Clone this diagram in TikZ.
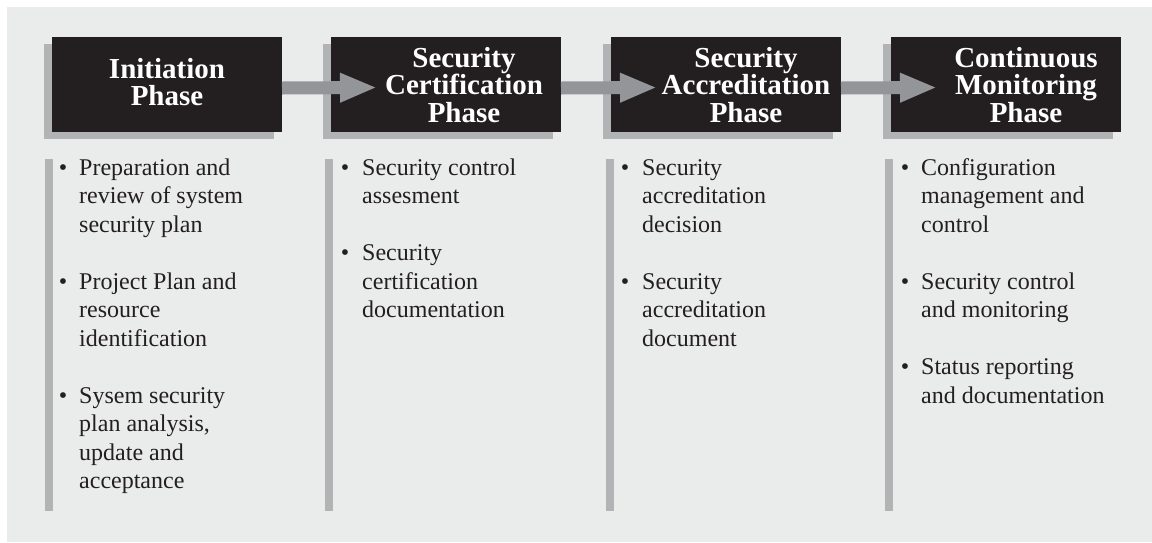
\documentclass[tikz,border=0pt]{standalone}
\usepackage{fontspec}
\setmainfont{Liberation Serif}
\usetikzlibrary{arrows.meta,calc}
\definecolor{bg}{HTML}{EAEBEB}
\definecolor{ink}{HTML}{231F20}
\definecolor{shade}{HTML}{B1B3B5}
\definecolor{arrowgray}{HTML}{939598}
\newcommand{\fs}{\rule{0pt}{22pt}}
\newcommand{\ls}{\rule{0pt}{20pt}}
\begin{document}
\begin{tikzpicture}[x=1pt,y=-1pt,
  phasebox/.style={fill=ink, draw=none, minimum width=230pt, minimum height=95pt, inner sep=0pt, outer sep=0pt},
  shadowbox/.style={fill=shade, draw=none, minimum width=230pt, minimum height=95pt, inner sep=0pt, outer sep=0pt},
  phasetext/.style={text=white, font=\fontsize{29}{27.5}\selectfont\bfseries, align=center, anchor=north, inner sep=0pt},
  itemtext/.style={text=ink, font=\fontsize{24}{28.5}\selectfont, align=left, anchor=north west, inner sep=0pt},
  bulletmark/.style={text=ink, font=\fontsize{24}{28.5}\selectfont, anchor=base, inner sep=0pt},
  sidebar/.style={fill=shade, draw=none},
  flow/.style={draw=arrowgray, line width=13pt, -{Triangle[length=37pt,width=27pt,fill=arrowgray]}}]
\useasboundingbox (0,0) rectangle (1152,542);
\fill[white] (0,0) rectangle (1152,542);
\fill[bg] (7,7) rectangle (1152,542);

% shadows
\foreach \cx/\n in {167/1,446/2,726/3,1006/4}{
  \node[shadowbox] (s\n) at (\cx-8.5,91.5) {};
}
% boxes
\node[phasebox] (p1) at (167,84.5) {};
\node[phasebox] (p2) at (446,84.5) {};
\node[phasebox] (p3) at (726,84.5) {};
\node[phasebox] (p4) at (1006,84.5) {};

% arrows
\coordinate (e1) at ($(p2.west)+(46,3)$);
\coordinate (e2) at ($(p3.west)+(46,3)$);
\coordinate (e3) at ($(p4.west)+(46,3)$);
\draw[flow] ($(p1.east)+(0,3.5)$) -- (e1);
\draw[flow] ($(p2.east)+(0,3.5)$) -- (e2);
\draw[flow] ($(p3.east)+(0,3.5)$) -- (e3);

% titles
\node[phasetext] (t1) at (167,56) {\fs Initiation\\Phase};
\node[phasetext] (t2) at (464,45) {\fs Security\\Certification\\Phase};
\node[phasetext] (t3) at (746,45) {\fs Security\\Accreditation\\Phase};
\node[phasetext] (t4) at (1026,45) {\fs Continuous\\Monitoring\\Phase};

% side bars
\foreach \bx in {45,325,606,885}{
  \fill[sidebar] (\bx,159) rectangle (\bx+8,511);
}

% column 1
\node[bulletmark] (b11) at (63,175) {•};
\node[itemtext] (i11) at (79,155) {\ls Preparation and\\review of system\\security plan};
\node[bulletmark] (b12) at (63,289) {•};
\node[itemtext] (i12) at (79,269) {\ls Project Plan and\\resource\\identification};
\node[bulletmark] (b13) at (63,403) {•};
\node[itemtext] (i13) at (79,383) {\ls Sysem security\\plan analysis,\\update and\\acceptance};

% column 2
\node[bulletmark] (b21) at (345,175) {•};
\node[itemtext] (i21) at (362,155) {\ls Security control\\assesment};
\node[bulletmark] (b22) at (345,260.5) {•};
\node[itemtext] (i22) at (362,240.5) {\ls Security\\certification\\documentation};

% column 3
\node[bulletmark] (b31) at (625,175) {•};
\node[itemtext] (i31) at (642,155) {\ls Security\\accreditation\\decision};
\node[bulletmark] (b32) at (625,289) {•};
\node[itemtext] (i32) at (642,269) {\ls Security\\accreditation\\document};

% column 4
\node[bulletmark] (b41) at (905,175) {•};
\node[itemtext] (i41) at (921,155) {\ls Configuration\\management and\\control};
\node[bulletmark] (b42) at (905,289) {•};
\node[itemtext] (i42) at (921,269) {\ls Security control\\and monitoring};
\node[bulletmark] (b43) at (905,374.5) {•};
\node[itemtext] (i43) at (921,354.5) {\ls Status reporting\\and documentation};
\end{tikzpicture}
\end{document}
